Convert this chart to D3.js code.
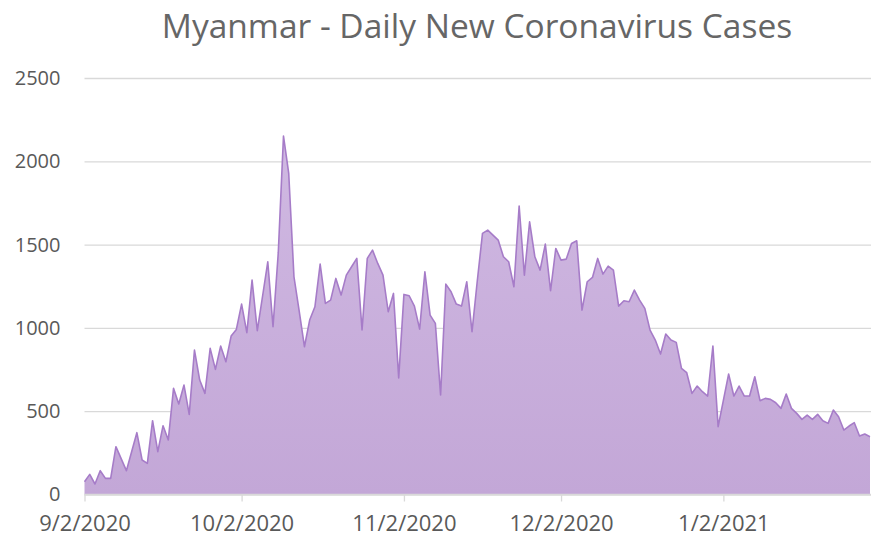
<!DOCTYPE html>
<html>
<head>
<meta charset="utf-8">
<script src="https://cdn.jsdelivr.net/npm/d3@7"></script>
<style>
  body { margin: 0; background: #fff; }
  text { font-family: "Open Sans", sans-serif; fill: #595959; }
</style>
</head>
<body>
<script>

// daily new cases, one value per day starting 9/2/2020
var startDate = "2020-09-02";
var dailyCases = [
  77, 121, 63, 143, 97, 97, 287, 215, 143, 257,
  371, 207, 187, 443, 257, 413, 327, 637, 543, 657,
  481, 867, 687, 607, 877, 751, 891, 797, 951, 991,
  1143, 971, 1287, 983, 1190, 1397, 1007, 1450, 2151, 1927,
  1307, 1100, 887, 1047, 1127, 1383, 1147, 1167, 1297, 1197,
  1317, 1367, 1417, 987, 1417, 1467, 1387, 1317, 1097, 1207,
  700, 1201, 1193, 1131, 993, 1337, 1077, 1027, 597, 1263,
  1217, 1143, 1131, 1277, 977, 1280, 1567, 1587, 1557, 1527,
  1427, 1397, 1247, 1731, 1317, 1637, 1427, 1347, 1503, 1223,
  1477, 1407, 1413, 1507, 1523, 1107, 1277, 1303, 1417, 1323,
  1371, 1347, 1131, 1163, 1157, 1227, 1167, 1117, 987, 927,
  843, 963, 927, 913, 757, 731, 607, 651, 617, 591,
  891, 407, 565, 723, 591, 651, 591, 591, 707, 563,
  577, 571, 551, 517, 603, 517, 487, 451, 477, 451,
  481, 443, 427, 507, 467, 387, 411, 431, 351, 363,
  347
];
var yTicks = [0, 500, 1000, 1500, 2000, 2500];
var xTickDates = ["2020-09-02", "2020-10-02", "2020-11-02", "2020-12-02", "2021-01-02"];
var chartTitle = "Myanmar - Daily New Coronavirus Cases";

function drawChart(){
  var width = 871, height = 536;
  var plotL = 84.5, plotR = 870, plotT = 78, plotB = 494.5;

  var parse = d3.utcParse("%Y-%m-%d");
  var t0 = parse(startDate);
  var data = dailyCases.map(function(v, i) {
    return { date: d3.utcDay.offset(t0, i), value: v };
  });

  var svg = d3.select("body").append("svg")
    .attr("width", width).attr("height", height);

  var x = d3.scaleUtc()
    .domain([t0, data[data.length - 1].date])
    .range([plotL, plotR]);
  var y = d3.scaleLinear().domain([0, 2500]).range([plotB, plotT]);

  // title
  svg.append("text")
    .attr("x", 477).attr("y", 38)
    .attr("text-anchor", "middle")
    .attr("font-size", "33.5px")
    .style("fill", "#666666")
    .text(chartTitle);

  // gridlines + y labels
  var yAxis = svg.append("g")
    .attr("transform", "translate(" + plotL + ",0)")
    .call(d3.axisLeft(y).tickValues(yTicks).tickFormat(d3.format("d"))
      .tickSize(-(width - plotL)).tickPadding(24));
  yAxis.select(".domain").remove();
  yAxis.selectAll("line").attr("stroke", "#d9d9d9").attr("stroke-width", 1.3);
  yAxis.selectAll("text").attr("font-size", "20px").attr("fill", "#595959")
    .attr("font-family", "Open Sans, sans-serif");

  // gradient for the area
  var grad = svg.append("defs").append("linearGradient")
    .attr("id", "areaFill").attr("gradientUnits", "userSpaceOnUse")
    .attr("x1", 0).attr("x2", 0).attr("y1", y(2200)).attr("y2", y(0));
  grad.append("stop").attr("offset", "0%").attr("stop-color", "#d0b9e2");
  grad.append("stop").attr("offset", "100%").attr("stop-color", "#c3a7d7");

  var area = d3.area()
    .x(function(d) { return x(d.date); })
    .y0(y(0))
    .y1(function(d) { return y(d.value); });
  var line = d3.line()
    .x(function(d) { return x(d.date); })
    .y(function(d) { return y(d.value); });

  svg.append("path").datum(data)
    .attr("d", area).attr("fill", "url(#areaFill)");
  svg.append("path").datum(data)
    .attr("d", line).attr("fill", "none")
    .attr("stroke", "#a67cc8").attr("stroke-width", 1.6)
    .attr("stroke-linejoin", "round");

  // x axis
  var xAxis = svg.append("g")
    .attr("transform", "translate(0," + plotB + ")")
    .call(d3.axisBottom(x)
      .tickValues(xTickDates.map(parse))
      .tickFormat(d3.utcFormat("%-m/%-d/%Y"))
      .tickSize(7).tickPadding(14));
  xAxis.select(".domain").attr("stroke", "#d9d9d9").attr("stroke-width", 1.5)
    .attr("d", "M" + plotL + ",0H" + width);
  xAxis.selectAll("line").attr("stroke", "#d9d9d9").attr("stroke-width", 1.3);
  xAxis.selectAll("text").attr("font-size", "22px").attr("fill", "#595959")
    .attr("font-family", "Open Sans, sans-serif");
}

drawChart();

</script>
</body>
</html>
